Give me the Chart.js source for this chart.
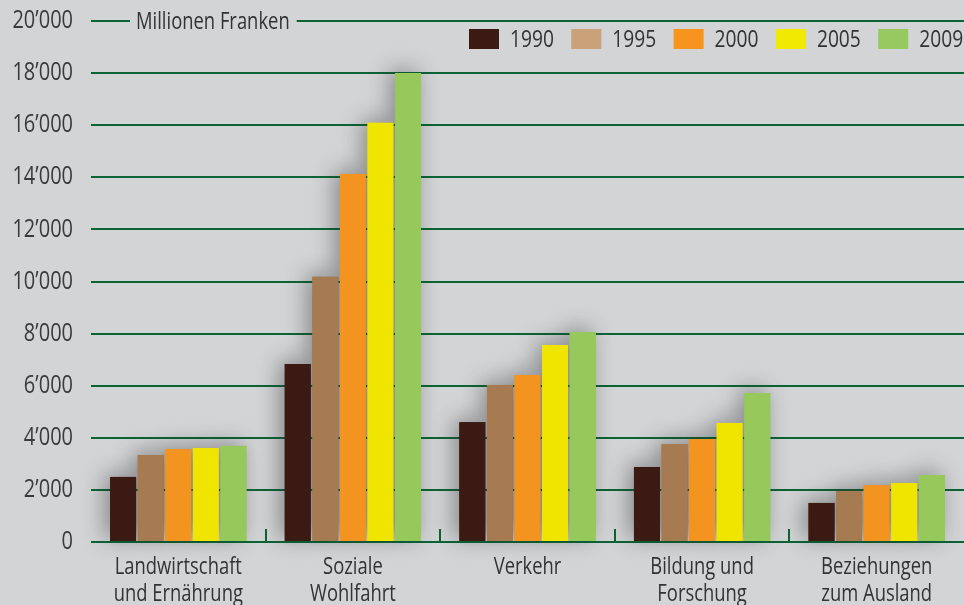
<!DOCTYPE html>
<html>
<head>
<meta charset="utf-8">
<script src="https://cdn.jsdelivr.net/npm/chart.js@4"></script>
<style>
html,body{margin:0;padding:0;background:#d3d4d6;}
#wrap{width:964px;height:605px;position:relative;}
</style>
</head>
<body>
<div id="wrap"><canvas id="c" width="964" height="605"></canvas></div>
<script>
const categories = [['Landwirtschaft','und Ernährung'],['Soziale','Wohlfahrt'],['Verkehr'],['Bildung und','Forschung'],['Beziehungen','zum Ausland']];
const years = ['1990','1995','2000','2005','2009'];
const v1990 = [2500, 6830, 4600, 2880, 1500];
const v1995 = [3340, 10180, 6030, 3760, 1960];
const v2000 = [3560, 14130, 6410, 3950, 2175];
const v2005 = [3610, 16090, 7560, 4570, 2265];
const v2009 = [3690, 18000, 8060, 5720, 2570];
const yTickLabels = ['0','2’000','4’000','6’000','8’000','10’000','12’000','14’000','16’000','18’000','20’000'];
const unitLabel = 'Millionen Franken';
const barColors = ['#3b1a13','#a67b51','#f39320','#efe500','#96c85b'];
const legendColors = ['#3b1a13','#c9a27a','#f7941d','#f2e900','#96c95f'];

const FONT = "'Open Sans', sans-serif";
const BG = '#d3d4d6';
const GREEN = '#0b6436';
const CONDENSE = 0.8;
Chart.defaults.font.family = FONT;
Chart.defaults.color = '#333333';

const series = [v1990, v1995, v2000, v2005, v2009];

// condensed text rendering (the original uses a condensed typeface)
const canvas = document.getElementById('c');
const ctx0 = canvas.getContext('2d');
const origFillText = ctx0.fillText;
ctx0.fillText = function (t, x, y, mw) {
  this.save();
  this.translate(x, y);
  this.scale(CONDENSE, 1);
  origFillText.call(this, t, 0, 0);
  this.restore();
};

const decoPlugin = {
  id: 'deco',
  beforeDatasetsDraw(chart) {
    const ctx = chart.ctx;
    const xs = chart.scales.x;
    const area = chart.chartArea;
    ctx.save();
    ctx.strokeStyle = GREEN;
    ctx.lineWidth = 2;
    for (let i = 0; i < categories.length - 1; i++) {
      const bx = Math.round((xs.getPixelForTick(i) + xs.getPixelForTick(i + 1)) / 2);
      ctx.beginPath();
      ctx.moveTo(bx, area.bottom);
      ctx.lineTo(bx, area.bottom - 13);
      ctx.stroke();
    }
    ctx.restore();
    chart.data.datasets.forEach((ds, di) => {
      const meta = chart.getDatasetMeta(di);
      meta.data.forEach(el => {
        const p = el.getProps(['x', 'y', 'base', 'width'], true);
        ctx.save();
        ctx.shadowColor = 'rgba(40,40,40,0.45)';
        ctx.shadowBlur = 22;
        ctx.shadowOffsetX = -5;
        ctx.shadowOffsetY = -3;
        ctx.fillStyle = barColors[di];
        ctx.fillRect(p.x - p.width / 2, p.y, p.width, p.base - p.y);
        ctx.restore();
      });
    });
  },
  afterDraw(chart) {
    const ctx = chart.ctx;
    const area = chart.chartArea;
    const ys = chart.scales.y;
    ctx.save();
    ctx.font = '23px ' + FONT;
    ctx.textBaseline = 'middle';
    ctx.textAlign = 'left';
    const top = ys.getPixelForValue(20000);
    const tw = ctx.measureText(unitLabel).width * CONDENSE;
    const tx = area.left + 45;
    ctx.fillStyle = BG;
    ctx.fillRect(tx - 6, top - 6, tw + 13, 12);
    ctx.fillStyle = '#333333';
    ctx.fillText(unitLabel, tx, top + 1);
    ctx.font = '24px ' + FONT;
    let lx = 469;
    const ly = top + 8;
    years.forEach((yr, i) => {
      ctx.fillStyle = legendColors[i];
      ctx.fillRect(lx, ly, 30, 20);
      ctx.fillStyle = '#333333';
      ctx.textBaseline = 'middle';
      ctx.fillText(yr, lx + 41, ly + 11);
      lx += 102.3;
    });
    ctx.restore();
  }
};

new Chart(canvas, {
  type: 'bar',
  data: {
    labels: categories,
    datasets: years.map((yr, i) => ({
      label: yr,
      data: series[i],
      backgroundColor: barColors[i],
      borderWidth: 0,
      categoryPercentage: 0.79,
      barPercentage: 0.94
    }))
  },
  options: {
    responsive: false,
    animation: false,
    layout: { padding: { top: 21, right: 0, left: 0, bottom: 0 } },
    plugins: { legend: { display: false }, tooltip: { enabled: false } },
    scales: {
      x: {
        grid: { display: false, drawTicks: false },
        border: { display: false },
        ticks: { font: { size: 23, lineHeight: 1.17 }, color: '#333333', padding: 12, maxRotation: 0, autoSkip: false },
        afterFit(s) { s.height = 63; s.paddingLeft = 0; s.paddingRight = 0; }
      },
      y: {
        min: 0, max: 20000,
        ticks: {
          stepSize: 2000,
          font: { size: 25 },
          color: '#3a3a3a',
          padding: 18,
          callback: (v, i) => yTickLabels[i]
        },
        grid: { color: GREEN, lineWidth: 2, drawTicks: false },
        border: { display: false },
        afterFit(s) { s.width = 91; s.paddingTop = 0; s.paddingBottom = 0; }
      }
    }
  },
  plugins: [decoPlugin]
});
</script>
</body>
</html>
